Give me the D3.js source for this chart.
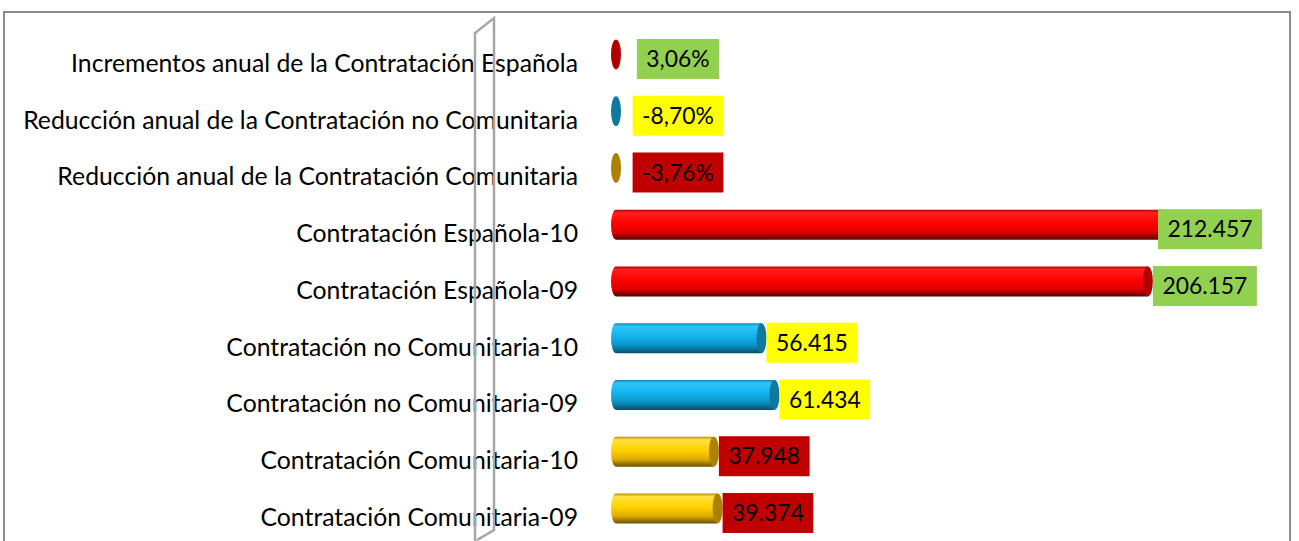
<!DOCTYPE html>
<html>
<head>
<meta charset="utf-8">
<script src="https://cdn.jsdelivr.net/npm/d3@7"></script>
<style>
  body { margin: 0; background: #fff; }
  svg { display: block; }
  text { font-family: Lato, "Open Sans", sans-serif; fill: #000; }
</style>
</head>
<body>
<div id="chart"></div>
<script>
const svgWidth = 1299;
const svgHeight = 541;

// data
const categories = [
  "Incrementos anual de la Contratación Española",
  "Reducción anual de la Contratación no Comunitaria",
  "Reducción anual de la Contratación Comunitaria",
  "Contratación Española-10",
  "Contratación Española-09",
  "Contratación no Comunitaria-10",
  "Contratación no Comunitaria-09",
  "Contratación Comunitaria-10",
  "Contratación Comunitaria-09"
];
const values = [0.0306, -0.087, -0.0376, 212457, 206157, 56415, 61434, 37948, 39374];
const valueLabels = ["3,06%", "-8,70%", "-3,76%", "212.457", "206.157", "56.415", "61.434", "37.948", "39.374"];
const groups = ["es", "nc", "co", "es", "es", "nc", "nc", "co", "co"];

// colours per group
const barColors = {
  es: ["#b00000", "#ff2020", "#ff0000", "#e00000", "#5e0000"],
  nc: ["#0a86b8", "#30c4f5", "#12b2ec", "#0a92c4", "#0b4c68"],
  co: ["#b88c00", "#ffe040", "#ffd200", "#e0ac00", "#6a5000"]
};
const capColors = { es: "#b00000", nc: "#0e78a0", co: "#ad8200" };
const boxColors = { es: "#92d050", nc: "#ffff00", co: "#c00000" };

const svg = d3.select("#chart").append("svg")
  .attr("width", svgWidth)
  .attr("height", svgHeight);

const defs = svg.append("defs");
Object.keys(barColors).forEach(k => {
  const g = defs.append("linearGradient")
    .attr("id", "grad-" + k)
    .attr("x1", 0).attr("y1", 0).attr("x2", 0).attr("y2", 1);
  const stops = [0, 0.1, 0.45, 0.75, 1];
  stops.forEach((s, i) => g.append("stop").attr("offset", s).attr("stop-color", barColors[k][i]));
});

// outer frame
svg.append("rect")
  .attr("x", 4).attr("y", 12)
  .attr("width", 1286).attr("height", 560)
  .attr("fill", "none")
  .attr("stroke", "#8c8c8c")
  .attr("stroke-width", 2);

// scales
const x = d3.scaleLinear()
  .domain([0, 212457])
  .range([616, 616 + 212457 * 0.00258]);
const plotRight = 1262;

const y = d3.scaleBand()
  .domain(categories)
  .range([34.6, 34.6 + 56.75 * categories.length])
  .padding(0);

const rowC = d => y(d) + y.bandwidth() / 2;

// font sizes fitted to the widths seen in the picture
function fitSize(str, target) {
  const t = svg.append("text").attr("font-size", 20).text(str);
  const w = t.node().getComputedTextLength();
  t.remove();
  return 20 * target / w;
}
const catSize = fitSize(categories[0], 507);
const valSize = fitSize("212.457", 85);

// category labels
svg.append("g").selectAll("text")
  .data(categories)
  .join("text")
  .attr("x", 578)
  .attr("y", d => rowC(d))
  .attr("dy", "0.36em")
  .attr("text-anchor", "end")
  .attr("font-size", catSize)
  .text(d => d);

// back wall edge
svg.append("path")
  .attr("d", "M475,545 L475,33 L494,18 L494,530 L477,540")
  .attr("fill", "none")
  .attr("stroke", "#a6a6a6")
  .attr("stroke-width", 2.5);

// cylinders
const barH = 30, capRx = 5;
const bars = svg.append("g").selectAll("g")
  .data(categories)
  .join("g");

bars.each(function(d, i) {
  const g = d3.select(this);
  const v = values[i];
  const k = groups[i];
  const cy = rowC(d) - 8.5;
  const top = cy - barH / 2, bot = cy + barH / 2;
  const x0 = x(0), xe = x(v);
  if (Math.abs(xe - x0) > 2) {
    g.append("path")
      .attr("d", `M${xe},${top} L${x0},${top} A${capRx},${barH / 2} 0 0 0 ${x0},${bot} L${xe},${bot} Z`)
      .attr("fill", `url(#grad-${k})`);
  }
  g.append("ellipse")
    .attr("cx", xe).attr("cy", cy)
    .attr("rx", capRx).attr("ry", barH / 2)
    .attr("fill", capColors[k]);
});

// value labels with coloured boxes
const labels = svg.append("g").selectAll("g")
  .data(categories)
  .join("g");

labels.each(function(d, i) {
  const g = d3.select(this);
  const t = g.append("text")
    .attr("font-size", valSize)
    .attr("text-anchor", "middle")
    .attr("dy", "0.36em")
    .text(valueLabels[i]);
  const w = t.node().getComputedTextLength() + 19;
  const h = 40;
  let left = Math.max(x(values[i]) + capRx, x(0) + 62 - w / 2);
  if (left + w > plotRight) left = plotRight - w;
  const cy = rowC(d) - 4;
  g.insert("rect", "text")
    .attr("x", left).attr("y", cy - h / 2)
    .attr("width", w).attr("height", h)
    .attr("fill", boxColors[groups[i]]);
  t.attr("x", left + w / 2).attr("y", cy);
});
</script>
</body>
</html>
